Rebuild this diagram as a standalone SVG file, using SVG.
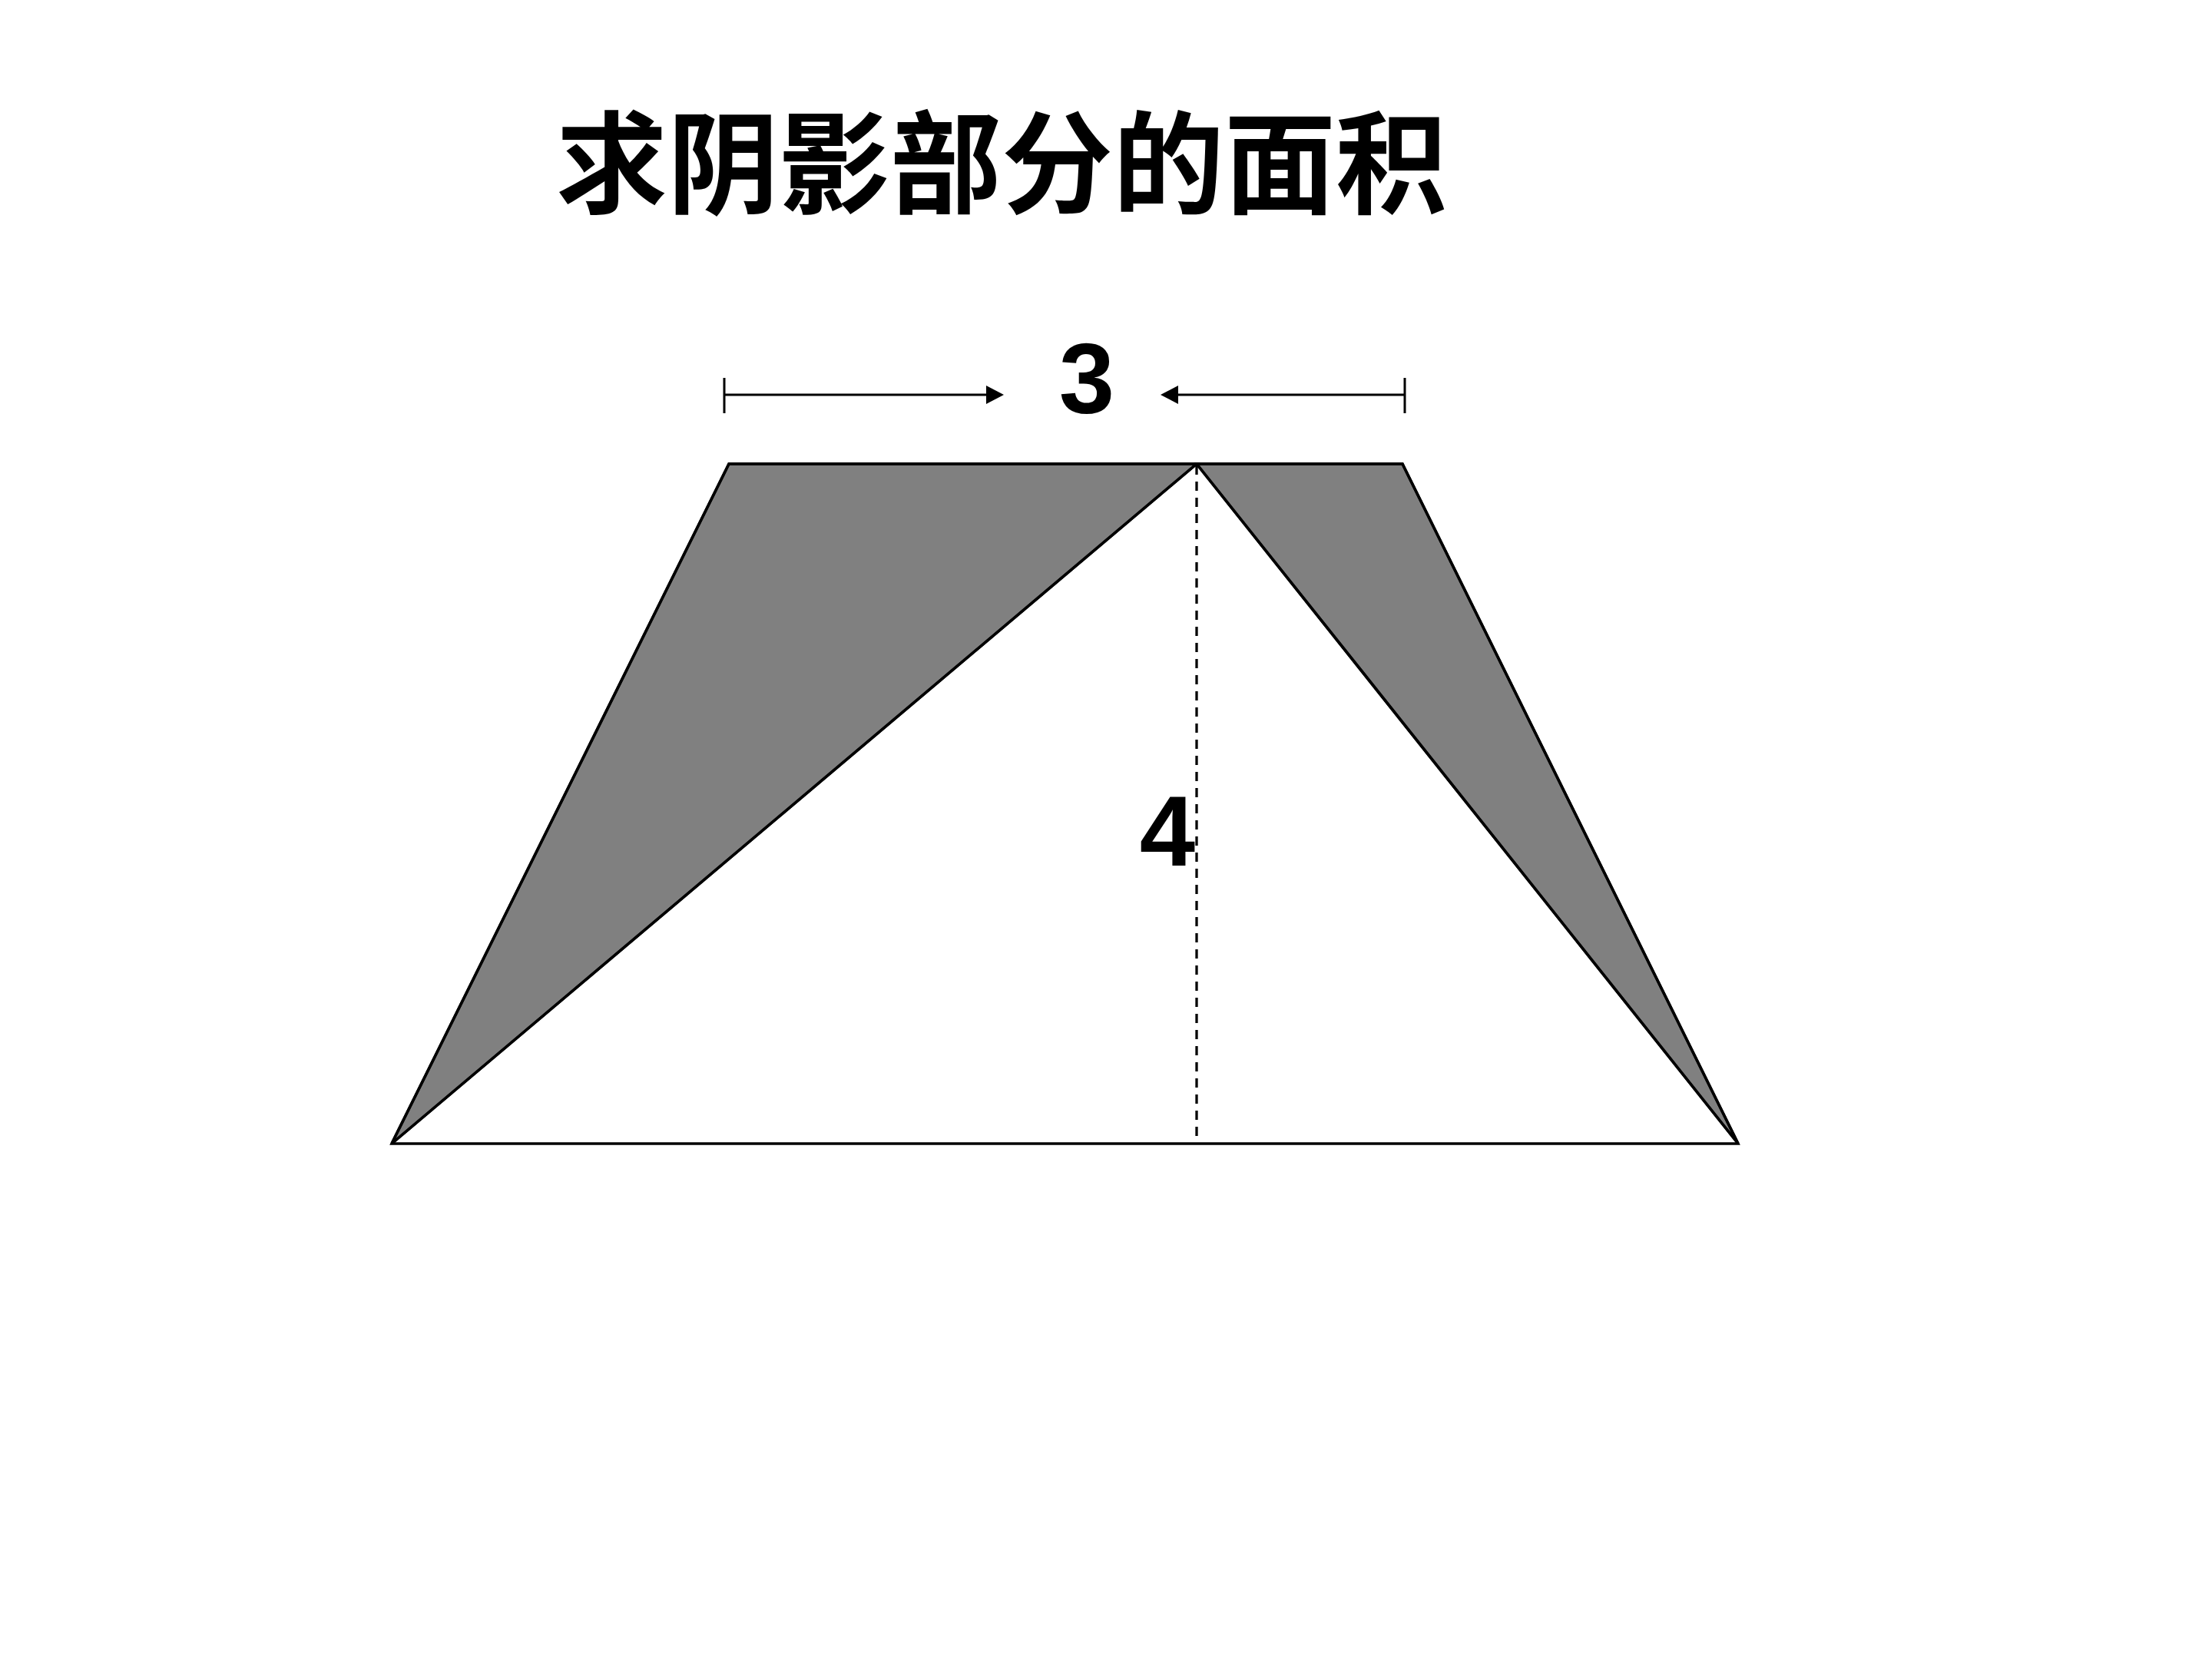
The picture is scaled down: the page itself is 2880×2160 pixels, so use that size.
<svg xmlns="http://www.w3.org/2000/svg" width="2880" height="2160" viewBox="0 0 2880 2160">
<style>
.title{font-family:"Noto Sans CJK SC","Noto Sans CJK JP",sans-serif;font-weight:700;font-size:145px;fill:#000}
.num{font-family:"Liberation Sans",Arial,sans-serif;font-weight:700;font-size:130px;fill:#000;text-anchor:middle}
.shade{fill:#808080;stroke:#000;stroke-width:3.5;stroke-linejoin:miter}
.edge{fill:none;stroke:#000;stroke-width:3.5}
.dim{fill:none;stroke:#000;stroke-width:3}
.dash{fill:none;stroke:#000;stroke-width:3.3;stroke-dasharray:12 9}
</style>
<defs>
<marker id="ah" markerUnits="userSpaceOnUse" markerWidth="24" markerHeight="24" refX="0" refY="12" orient="auto">
<path d="M0,0 L23,12 L0,24 z" fill="#000"/>
</marker>
</defs>
<rect width="2880" height="2160" fill="#fff"/>
<text class="title" x="1304" y="267" text-anchor="middle">求阴影部分的面积</text>
<g id="trapezoid">
<polygon class="shade" points="949,604 1558,604 510,1489"/>
<polygon class="shade" points="1558,604 1826,604 2263,1489"/>
<polygon class="edge" points="949,604 1826,604 2263,1489 510,1489"/>
<line class="edge" x1="1558" y1="604" x2="510" y2="1489"/>
<line class="edge" x1="1558" y1="604" x2="2263" y2="1489"/>
<line class="dash" x1="1558" y1="606" x2="1558" y2="1489"/>
</g>
<g id="connectors">
<line class="dim" x1="943" y1="514" x2="1284" y2="514" marker-end="url(#ah)"/>
<line class="dim" x1="1829" y1="514" x2="1534" y2="514" marker-end="url(#ah)"/>
<line class="dim" x1="943" y1="492" x2="943" y2="538"/>
<line class="dim" x1="1829" y1="492" x2="1829" y2="538"/>
</g>
<g id="label-3"><text class="num" x="1415" y="538">3</text></g>
<g id="label-4"><text class="num" x="1520" y="1127">4</text></g>
</svg>
